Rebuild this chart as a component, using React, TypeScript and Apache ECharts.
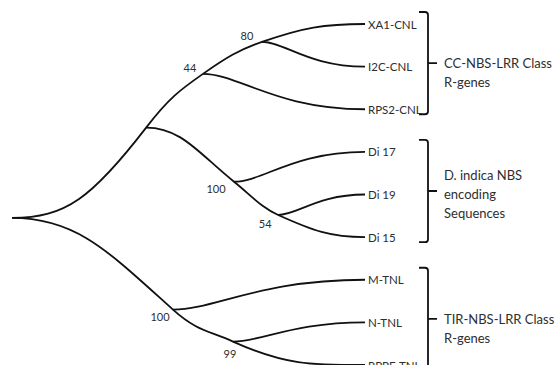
import React, { useEffect, useRef } from "react";
import * as echarts from "echarts";

// ---- data ----
const taxa = ["XA1-CNL", "I2C-CNL", "RPS2-CNL", "Di 17", "Di 19", "Di 15", "M-TNL", "N-TNL", "RPPF-TNL"];
const taxonRow = [0, 1, 2, 3, 4, 5, 6, 7, 8];
const taxonDepth = [1, 1, 1, 1, 1, 1, 1, 1, 1];

const cladeNodes = ["root", "n1", "n2", "n3", "n4", "n5", "n6", "n7"];
const cladeDepth = [0, 0.38, 0.541, 0.708, 0.629, 0.754, 0.456, 0.626];
const cladeRow = [4.55, 2.43, 1.17, 0.42, 3.7, 4.48, 6.7, 7.45];
const bootstrap = [null, null, 44, 80, 100, 54, 100, 99];

// children of each clade node; the first child continues the parent's branch line
const cladeChildren = [
  ["n1", "n6"],
  ["n2", "n4"],
  ["n3", "RPS2-CNL"],
  ["XA1-CNL", "I2C-CNL"],
  ["n5", "Di 17"],
  ["Di 15", "Di 19"],
  ["n7", "M-TNL"],
  ["RPPF-TNL", "N-TNL"],
];

const groupLines = [
  ["CC-NBS-LRR Class", "R-genes"],
  ["D. indica NBS", "encoding", "Sequences"],
  ["TIR-NBS-LRR Class", "R-genes"],
];
const groupFirst = ["XA1-CNL", "Di 17", "M-TNL"];
const groupLast = ["RPS2-CNL", "Di 15", "RPPF-TNL"];

// ---- drawing style ----
const INK = "#111111";
const TEXT = "#2e2e2e";
const FONT = "Lato, 'Open Sans', sans-serif";
const bendSlope: Record<string, number> = { n1: -1.3, n2: -0.7, n3: -0.35, n4: 0.8, n5: 0.45, n6: 0.9, n7: 0.45 };
const labelOffset: Record<string, [number, number]> = {
  n2: [-13, -6],
  n3: [-15, -6.5],
  n4: [-18, 7],
  n5: [-13, 9],
  n6: [-13, 7],
  n7: [-3, 12],
};

function nodeValue(name: string): [number, number] {
  const ci = cladeNodes.indexOf(name);
  if (ci >= 0) return [cladeDepth[ci], cladeRow[ci]];
  const ti = taxa.indexOf(name);
  return [taxonDepth[ti], taxonRow[ti]];
}

function buildSpines(): string[][] {
  const spines: string[][] = [];
  const start = (from: string, child: string) => {
    const path = [from, child];
    let cur = child;
    while (cladeNodes.indexOf(cur) >= 0) {
      const next = cladeChildren[cladeNodes.indexOf(cur)][0];
      path.push(next);
      cur = next;
    }
    spines.push(path);
    for (let i = 1; i < path.length; i++) {
      const idx = cladeNodes.indexOf(path[i]);
      if (idx >= 0) cladeChildren[idx].slice(1).forEach((c) => start(path[i], c));
    }
  };
  cladeChildren[0].forEach((c) => start("root", c));
  return spines;
}

function textEl(text: string, x: number, y: number, size: number, align: string) {
  return {
    type: "text",
    x,
    y,
    style: { text, fill: TEXT, fontFamily: FONT, fontSize: size, align, verticalAlign: "middle" },
  };
}

export default function App() {
  const ref = useRef<HTMLDivElement>(null);
  useEffect(() => {
    if (!ref.current) return;
    const chart = echarts.init(ref.current, null, { renderer: "svg" });
    const spines = buildSpines();
    const supported = cladeNodes.map((n, i) => i).filter((i) => bootstrap[i] != null);

    const option: any = {
      animation: false,
      backgroundColor: "#ffffff",
      grid: { left: 12, right: 194, top: 24, bottom: 0, containLabel: false },
      xAxis: { type: "value", min: 0, max: 1, show: false },
      yAxis: { type: "value", min: 0, max: 8, inverse: true, show: false },
      series: [
        {
          type: "custom",
          clip: false,
          silent: true,
          data: spines.map((s) => nodeValue(s[0])),
          renderItem: (params: any, api: any) => {
            const spine = spines[params.dataIndex];
            const pts = spine.map((n) => api.coord(nodeValue(n)));
            const single = pts.length === 2;
            let d = `M${pts[0][0]},${pts[0][1]}`;
            for (let i = 0; i < pts.length - 1; i++) {
              const P = pts[i];
              const Q = pts[i + 1];
              const dx = Q[0] - P[0];
              const a = single ? 0.22 : 0.4;
              const b = single ? 0.55 : 0.4;
              const sP = i === 0 ? 0 : bendSlope[spine[i]] ?? 0;
              const sQ = i + 1 === pts.length - 1 ? 0 : bendSlope[spine[i + 1]] ?? 0;
              const h1 = a * dx;
              const h2 = b * dx;
              d += ` C${P[0] + h1},${P[1] + sP * h1} ${Q[0] - h2},${Q[1] - sQ * h2} ${Q[0]},${Q[1]}`;
            }
            return {
              type: "path",
              shape: { pathData: d },
              style: { stroke: INK, lineWidth: 1.8, fill: "none" },
            };
          },
        },
        {
          type: "custom",
          clip: false,
          silent: true,
          data: groupFirst.map((f) => nodeValue(f)),
          renderItem: (params: any, api: any) => {
            const i = params.dataIndex;
            const p1 = api.coord(nodeValue(groupFirst[i]));
            const p2 = api.coord(nodeValue(groupLast[i]));
            const x = p1[0] + 63;
            const top = p1[1] - 12;
            const bot = p2[1] + 5;
            const mid = (top + bot) / 2;
            const d =
              `M${x - 9},${top} L${x - 3},${top} Q${x},${top} ${x},${top + 3} L${x},${bot - 3} Q${x},${bot} ${x - 3},${bot} L${x - 9},${bot}` +
              ` M${x},${mid} L${x + 9},${mid}`;
            const lines = groupLines[i];
            const firstY = mid - (lines.length >= 3 ? 16 : 0);
            const children: any[] = [
              { type: "path", shape: { pathData: d }, style: { stroke: INK, lineWidth: 1.8, fill: "none" } },
            ];
            lines.forEach((t, k) => children.push(textEl(t, x + 16, firstY + k * 19, 13, "left")));
            return { type: "group", children };
          },
        },
        {
          type: "custom",
          clip: false,
          silent: true,
          data: taxa.map((t, i) => [taxonDepth[i], taxonRow[i]]),
          renderItem: (params: any, api: any) => {
            const i = params.dataIndex;
            const p = api.coord([api.value(0), api.value(1)]);
            return textEl(taxa[i], p[0] + 3, p[1], 11.5, "left");
          },
        },
        {
          type: "custom",
          clip: false,
          silent: true,
          data: supported.map((i) => [cladeDepth[i], cladeRow[i]]),
          renderItem: (params: any, api: any) => {
            const i = supported[params.dataIndex];
            const p = api.coord([api.value(0), api.value(1)]);
            const off = labelOffset[cladeNodes[i]];
            return textEl(String(bootstrap[i]), p[0] + off[0], p[1] + off[1], 11, "center");
          },
        },
      ],
    };
    chart.setOption(option);
    return () => chart.dispose();
  }, []);
  return <div ref={ref} style={{ position: "absolute", left: 0, top: 0, width: 559, height: 365 }} />;
}
